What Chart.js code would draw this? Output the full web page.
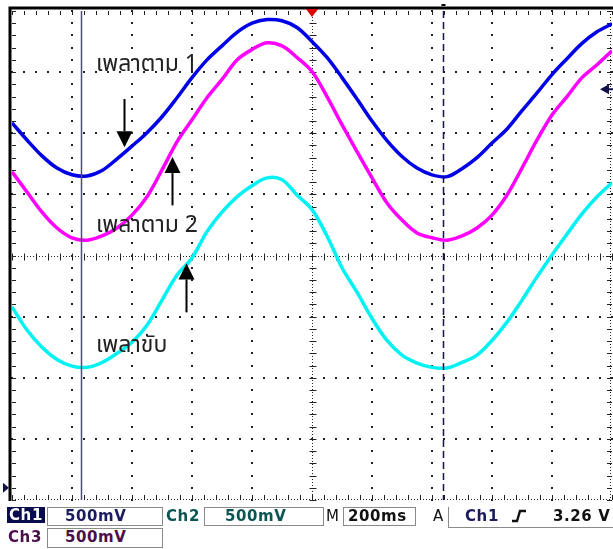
<!DOCTYPE html>
<html>
<head>
<meta charset="utf-8">
<script src="https://cdn.jsdelivr.net/npm/chart.js@4"></script>
<style>
  html, body { margin: 0; padding: 0; background: #fff; }
  #wrap { position: relative; width: 613px; height: 549px; overflow: hidden; }
  canvas { position: absolute; left: 0; top: 0; }
  .lbl { position: absolute; font-family: "Noto Sans Thai", "Noto Sans", "DejaVu Sans", sans-serif; font-size: 23px; color: #222; white-space: nowrap; line-height: 1; }
  .sb { position: absolute; font-family: "DejaVu Sans", sans-serif; font-size: 15px; font-weight: bold; letter-spacing: 0.6px; white-space: nowrap; line-height: 1; }
  .box { position: absolute; border: 1px solid #8a8a8a; box-sizing: border-box; background: #fff; }
</style>
</head>
<body>
<div id="wrap">
  <canvas id="c" width="613" height="549"></canvas>
  <div class="lbl" id="l1" style="left:96px; top:53px;">เพลาตาม 1</div>
  <div class="lbl" id="l2" style="left:96px; top:214px;">เพลาตาม 2</div>
  <div class="lbl" id="l3" style="left:96px; top:334px;">เพลาขับ</div>

  <div class="sb" style="left:7px; top:507px; width:38px; height:16px; background:#0b0b4f; color:#fff; padding:1px 0 0 2px; box-sizing:border-box;">Ch1</div>
  <div class="box" style="left:47px; top:507px; width:116px; height:19px;"></div>
  <div class="sb" style="left:65px; top:509px; color:#1b1b5e;">500mV</div>
  <div class="sb" style="left:166px; top:509px; color:#0b5552;">Ch2</div>
  <div class="box" style="left:204px; top:507px; width:120px; height:19px;"></div>
  <div class="sb" style="left:225px; top:509px; color:#0b5552;">500mV</div>
  <div class="sb" style="left:326px; top:509px; color:#111; font-weight:normal;">M</div>
  <div class="box" style="left:343px; top:507px; width:73px; height:19px;"></div>
  <div class="sb" style="left:348px; top:509px; color:#111;">200ms</div>
  <div class="sb" style="left:433px; top:509px; color:#111; font-weight:normal;">A</div>
  <div style="position:absolute; left:448px; top:507px; width:170px; height:20px; border-left:1px solid #8a8a8a; border-bottom:1px solid #8a8a8a;"></div>
  <div class="sb" style="left:465px; top:509px; color:#1b1b5e;">Ch1</div>
  <svg style="position:absolute; left:510px; top:509px;" width="18" height="14"><polyline points="2,12 7,12 10,2 16,2" fill="none" stroke="#111" stroke-width="2.4"/></svg>
  <div class="sb" style="left:553px; top:509px; color:#111;">3.26 V</div>
  <div class="sb" style="left:8px; top:530px; color:#4b0f4b;">Ch3</div>
  <div class="box" style="left:47px; top:528px; width:116px; height:20px;"></div>
  <div class="sb" style="left:65px; top:530px; color:#4b0f4b;">500mV</div>
</div>
<script>
// time (ms) across the 10-division screen, 200 ms/div
const timeMs = [0,50,100,150,200,250,300,350,400,450,500,550,600,650,700,750,800,850,900,950,1000,
                1050,1100,1150,1200,1250,1300,1350,1400,1450,1500,1550,1600,1650,1700,1750,1800,1850,1900,1950,2000];
// traces, in screen divisions (500 mV/div)
const ch1Blue = [2.17,1.89,1.63,1.43,1.32,1.30,1.39,1.58,1.79,2.01,2.27,2.58,2.91,3.20,3.43,3.65,3.80,3.86,3.84,3.73,3.50,
                 3.24,2.91,2.56,2.20,1.88,1.62,1.43,1.32,1.29,1.42,1.60,1.84,2.07,2.37,2.66,2.96,3.22,3.47,3.66,3.79];
const ch2Magenta = [1.37,1.04,0.71,0.45,0.29,0.25,0.32,0.45,0.66,0.96,1.40,1.86,2.22,2.58,2.88,3.20,3.37,3.48,3.43,3.24,3.01,
                    2.60,2.14,1.70,1.27,0.86,0.58,0.37,0.29,0.25,0.32,0.45,0.66,0.99,1.43,1.89,2.30,2.60,2.91,3.12,3.35];
const ch3Cyan = [-0.84,-1.22,-1.50,-1.70,-1.81,-1.83,-1.75,-1.60,-1.42,-1.14,-0.73,-0.32,-0.04,0.39,0.71,0.96,1.14,1.27,1.24,0.99,0.75,
                 0.32,-0.20,-0.60,-1.03,-1.39,-1.63,-1.76,-1.83,-1.84,-1.75,-1.63,-1.39,-1.09,-0.73,-0.35,0.01,0.35,0.68,0.96,1.19];
// cursor positions (ms) and annotation arrows [time ms, tail div, tip div]
const cursorSolidMs = 230;
const cursorDashedMs = 1437;
const arrows = [[373, 2.56, 1.77], [533, 0.82, 1.61], [580, -0.93, -0.13]];
const triggerLevelDiv = 2.72;

const pts = arr => timeMs.map((t, i) => ({ x: t, y: arr[i] }));

const scopePlugin = {
  id: 'scope',
  beforeDatasetsDraw(chart) {
    const ctx = chart.ctx, xs = chart.scales.x, ys = chart.scales.y;
    const X = v => xs.getPixelForValue(v), Y = v => ys.getPixelForValue(v);
    const L = X(0), R = X(2000), T = Y(4), B = Y(-4);
    ctx.save();
    ctx.fillStyle = '#222';
    const dot = (x, y) => ctx.fillRect(Math.round(x) - 1, Math.round(y) - 1, 2, 2);
    for (let i = 1; i < 10; i++) {
      if (i === 5) continue;
      const x = X(i * 200);
      for (let j = 0; j <= 40; j++) dot(x, Y(-4 + j * 0.2));
    }
    for (let k = -3; k <= 3; k++) {
      if (k === 0) continue;
      const y = Y(k);
      for (let m = 0; m <= 50; m++) dot(X(m * 40), y);
    }
    ctx.strokeStyle = '#222';
    ctx.lineWidth = 1;
    ctx.setLineDash([1, 2]);
    const cx = Math.round(X(1000)) + 0.5, cy = Math.round(Y(0)) + 0.5;
    ctx.beginPath();
    ctx.moveTo(cx, T); ctx.lineTo(cx, B);
    ctx.moveTo(L, cy); ctx.lineTo(R, cy);
    ctx.moveTo(L, Math.round(B) - 0.5); ctx.lineTo(R, Math.round(B) - 0.5);
    ctx.moveTo(Math.round(R) - 1.5, T); ctx.lineTo(Math.round(R) - 1.5, B);
    ctx.stroke();
    ctx.setLineDash([]);
    ctx.beginPath();
    for (let m = 0; m <= 50; m++) {
      const x = Math.round(X(m * 40)) + 0.5;
      ctx.moveTo(x, cy - 3); ctx.lineTo(x, cy + 4);
      ctx.moveTo(x, B - 5); ctx.lineTo(x, B);
      ctx.moveTo(x, T); ctx.lineTo(x, T + 4);
    }
    for (let j = 0; j <= 40; j++) {
      const y = Math.round(Y(-4 + j * 0.2)) + 0.5;
      ctx.moveTo(cx - 3, y); ctx.lineTo(cx + 4, y);
      ctx.moveTo(L, y); ctx.lineTo(L + 4, y);
      ctx.moveTo(R - 5, y); ctx.lineTo(R, y);
    }
    ctx.stroke();
    ctx.restore();
  },
  afterDatasetsDraw(chart) {
    const ctx = chart.ctx, xs = chart.scales.x, ys = chart.scales.y;
    const X = v => xs.getPixelForValue(v), Y = v => ys.getPixelForValue(v);
    const L = X(0), R = X(2000), T = Y(4), B = Y(-4);
    ctx.save();
    const xs1 = Math.round(X(cursorSolidMs)) + 0.5;
    ctx.strokeStyle = '#4d4d78'; ctx.lineWidth = 1.5;
    ctx.beginPath(); ctx.moveTo(xs1, T); ctx.lineTo(xs1, B); ctx.stroke();
    const xs2 = Math.round(X(cursorDashedMs)) + 0.5;
    ctx.strokeStyle = '#15154a'; ctx.lineWidth = 1.5; ctx.setLineDash([7, 4]);
    ctx.beginPath(); ctx.moveTo(xs2, T); ctx.lineTo(xs2, B); ctx.stroke();
    ctx.setLineDash([]);
    ctx.strokeStyle = '#000'; ctx.lineWidth = 3;
    ctx.beginPath();
    ctx.moveTo(L - 2, B + 1); ctx.lineTo(L - 2, T - 3); ctx.lineTo(613, T - 3);
    ctx.stroke();
    ctx.fillStyle = '#000'; ctx.strokeStyle = '#000'; ctx.lineWidth = 2;
    arrows.forEach(([t, tail, tip]) => {
      const x = Math.round(X(t)) + 0.5, y0 = Y(tail), y1 = Y(tip);
      const dir = y1 > y0 ? 1 : -1;
      const head = 16;
      ctx.beginPath(); ctx.moveTo(x, y0); ctx.lineTo(x, y1 - dir * head); ctx.stroke();
      ctx.beginPath();
      ctx.moveTo(x, y1); ctx.lineTo(x - 8, y1 - dir * head); ctx.lineTo(x + 8, y1 - dir * head);
      ctx.closePath(); ctx.fill();
    });
    const tx = X(1000);
    ctx.fillStyle = '#e00000';
    ctx.beginPath(); ctx.moveTo(tx - 6, T - 2); ctx.lineTo(tx + 6, T - 2); ctx.lineTo(tx, T + 6); ctx.closePath(); ctx.fill();
    const ty = Y(triggerLevelDiv);
    ctx.fillStyle = '#10104a'; ctx.strokeStyle = '#10104a'; ctx.lineWidth = 2;
    ctx.beginPath(); ctx.moveTo(R - 12, ty); ctx.lineTo(R - 3, ty - 5); ctx.lineTo(R - 3, ty + 5); ctx.closePath(); ctx.fill();
    ctx.beginPath(); ctx.moveTo(R - 4, ty); ctx.lineTo(613, ty); ctx.stroke();
    const gy = Y(-3.8);
    ctx.beginPath(); ctx.moveTo(L - 9, gy - 5); ctx.lineTo(L - 3, gy); ctx.lineTo(L - 9, gy + 5); ctx.closePath(); ctx.fill();
    ctx.fillStyle = '#000';
    ctx.fillRect(xs2 - 2, T - 7, 4, 2);
    ctx.restore();
  }
};

new Chart(document.getElementById('c'), {
  type: 'line',
  data: {
    datasets: [
      { label: 'Ch1', data: pts(ch1Blue), borderColor: '#0000e6', borderWidth: 3.5 },
      { label: 'Ch2', data: pts(ch2Magenta), borderColor: '#ff00ff', borderWidth: 3.5 },
      { label: 'Ch3', data: pts(ch3Cyan), borderColor: '#00f2f2', borderWidth: 3.5 }
    ]
  },
  options: {
    responsive: false,
    animation: false,
    layout: { padding: { left: 12, right: 1, top: 11, bottom: 49 } },
    elements: { point: { radius: 0 }, line: { tension: 0.35 } },
    plugins: { legend: { display: false }, tooltip: { enabled: false } },
    scales: {
      x: { type: 'linear', min: 0, max: 2000, display: false },
      y: { type: 'linear', min: -4, max: 4, display: false }
    }
  },
  plugins: [scopePlugin]
});
</script>
</body>
</html>
